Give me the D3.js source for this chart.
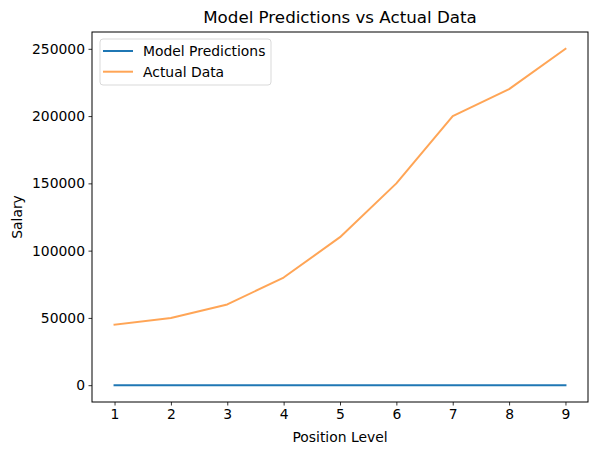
<!DOCTYPE html>
<html>
<head>
<meta charset="utf-8">
<script src="https://cdn.jsdelivr.net/npm/d3@7"></script>
<style>
  html, body { margin: 0; padding: 0; background: #fff; }
  svg { display: block; font-family: "DejaVu Sans", sans-serif; }
</style>
</head>
<body>
<div id="chart"></div>
<script>
// data
const levels = [1, 2, 3, 4, 5, 6, 7, 8, 9];
const modelPredictions = [0, 0, 0, 0, 0, 0, 0, 0, 0];
const actualSalary = [45000, 50000, 60000, 80000, 110000, 150000, 200000, 220000, 250000];
const xTicks = [1, 2, 3, 4, 5, 6, 7, 8, 9];
const yTicks = [0, 50000, 100000, 150000, 200000, 250000];
const seriesNames = ["Model Predictions", "Actual Data"];

const width = 597, height = 455;
const margin = {top: 32, right: 9, bottom: 53, left: 92};

const svg = d3.select("#chart").append("svg")
    .attr("width", width)
    .attr("height", height);

// matplotlib style 5% padding
const x = d3.scaleLinear()
    .domain([0.6, 9.4])
    .range([margin.left, width - margin.right]);

const y = d3.scaleLinear()
    .domain([-12500, 262500])
    .range([height - margin.bottom, margin.top]);

// axes
const xAxis = svg.append("g")
    .attr("transform", `translate(0, ${height - margin.bottom})`)
    .call(d3.axisBottom(x).tickValues(xTicks).tickSize(3.5).tickPadding(3.5).tickFormat(d3.format("d")));

const yAxis = svg.append("g")
    .attr("transform", `translate(${margin.left}, 0)`)
    .call(d3.axisLeft(y).tickValues(yTicks).tickSize(3.5).tickPadding(3.5).tickFormat(d3.format("d")));

[xAxis, yAxis].forEach(g => {
    g.select(".domain").remove();
    g.selectAll(".tick line").attr("stroke", "#000").attr("stroke-width", 0.8);
    g.selectAll(".tick text")
        .attr("fill", "#000")
        .attr("font-size", "13.9px")
        .attr("font-family", "DejaVu Sans, sans-serif");
});

// lines
const line = vals => d3.line()
    .x((d, i) => x(levels[i]))
    .y(d => y(d))(vals);

svg.append("path")
    .attr("d", line(modelPredictions))
    .attr("fill", "none")
    .attr("stroke", "#1f77b4")
    .attr("stroke-width", 2)
    .attr("stroke-linecap", "square");

svg.append("path")
    .attr("d", line(actualSalary))
    .attr("fill", "none")
    .attr("stroke", "#ff7f0e")
    .attr("stroke-opacity", 0.7)
    .attr("stroke-width", 2)
    .attr("stroke-linecap", "square")
    .attr("stroke-linejoin", "round");

// frame
svg.append("rect")
    .attr("x", margin.left)
    .attr("y", margin.top)
    .attr("width", width - margin.left - margin.right)
    .attr("height", height - margin.top - margin.bottom)
    .attr("fill", "none")
    .attr("stroke", "#000")
    .attr("stroke-width", 1);

// title & labels
svg.append("text")
    .attr("x", (margin.left + width - margin.right) / 2)
    .attr("y", 23)
    .attr("text-anchor", "middle")
    .attr("font-size", "16.7px")
    .text("Model Predictions vs Actual Data");

svg.append("text")
    .attr("x", (margin.left + width - margin.right) / 2)
    .attr("y", 442)
    .attr("text-anchor", "middle")
    .attr("font-size", "13.9px")
    .text("Position Level");

svg.append("text")
    .attr("transform", `translate(22, ${(margin.top + height - margin.bottom) / 2}) rotate(-90)`)
    .attr("text-anchor", "middle")
    .attr("font-size", "13.9px")
    .text("Salary");

// legend
const legend = svg.append("g").attr("transform", `translate(100, 39)`);
legend.append("rect")
    .attr("width", 171)
    .attr("height", 46)
    .attr("rx", 3)
    .attr("fill", "#fff")
    .attr("fill-opacity", 0.8)
    .attr("stroke", "#d9d9d9")
    .attr("stroke-width", 1);

const legendColors = ["#1f77b4", "#ff7f0e"];
const legendOpacity = [1, 0.7];
seriesNames.forEach((name, i) => {
    const yy = 12 + i * 20.7;
    legend.append("line")
        .attr("x1", 3).attr("x2", 33)
        .attr("y1", yy).attr("y2", yy)
        .attr("stroke", legendColors[i])
        .attr("stroke-opacity", legendOpacity[i])
        .attr("stroke-width", 2);
    legend.append("text")
        .attr("x", 43)
        .attr("y", yy)
        .attr("dy", "0.35em")
        .attr("font-size", "13.9px")
        .text(name);
});
</script>
</body>
</html>
